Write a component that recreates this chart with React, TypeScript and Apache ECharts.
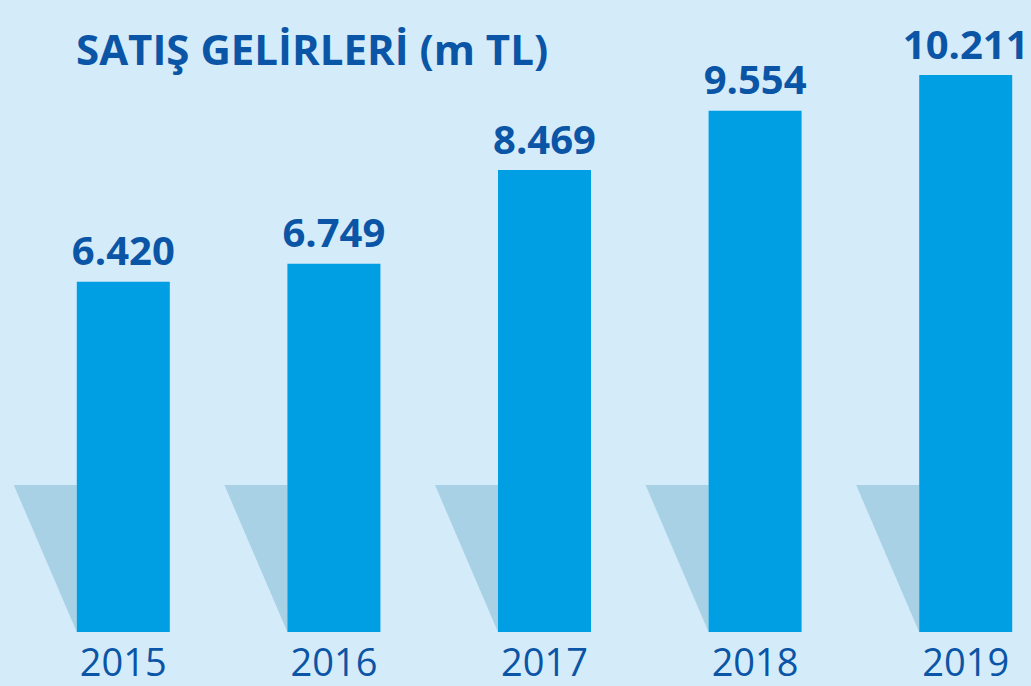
import React, { useEffect, useRef } from "react";
import * as echarts from "echarts";

const years = ["2015", "2016", "2017", "2018", "2019"];
const revenues = [6420, 6749, 8469, 9554, 10211];
const chartTitle = "SATIŞ GELİRLERİ (m TL)";

const BG = "#d4ebfa";
const BAR = "#009fe3";
const SHADOW = "#a8d1e5";
const TEXT = "#0b55a6";

function fmt(v: number): string {
  return String(v).replace(/\B(?=(\d{3})+(?!\d))/g, ".");
}

export default function App() {
  const ref = useRef<HTMLDivElement>(null);
  useEffect(() => {
    document.body.style.margin = "0";
    const chart = echarts.init(ref.current!, null, { renderer: "svg" });
    chart.setOption({
      animation: false,
      backgroundColor: BG,
      title: {
        text: chartTitle,
        left: 71,
        top: 22,
        textStyle: {
          fontFamily: "Open Sans",
          fontWeight: "bold",
          fontSize: 42,
          color: TEXT,
        },
      },
      grid: {
        left: 18,
        right: -40,
        top: 32,
        bottom: 54,
        containLabel: false,
        outerBoundsMode: "none",
      },
      xAxis: {
        type: "category",
        data: years,
        axisLine: { show: false },
        axisTick: { show: false },
        axisLabel: {
          fontFamily: "Open Sans",
          fontSize: 38,
          color: TEXT,
          margin: 10,
        },
      },
      yAxis: {
        type: "value",
        min: 0,
        max: 11000,
        show: false,
        splitLine: { show: false },
      },
      series: [
        {
          type: "custom",
          z: 1,
          silent: true,
          data: years.map((_, i) => i),
          renderItem: (params: any, api: any) => {
            const i = api.value(0);
            const base = api.coord([i, 0]);
            const left = base[0] - 46.5;
            return {
              type: "polygon",
              shape: {
                points: [
                  [left - 63, base[1] - 147],
                  [left, base[1] - 147],
                  [left, base[1]],
                ],
              },
              style: { fill: SHADOW },
            };
          },
        },
        {
          type: "bar",
          z: 2,
          data: revenues,
          barWidth: 93,
          itemStyle: { color: BAR },
          label: {
            show: true,
            position: "top",
            distance: 12,
            formatter: (p: any) => fmt(p.value),
            fontFamily: "Open Sans",
            fontWeight: "bold",
            fontSize: 40,
            color: TEXT,
          },
        },
      ],
    });
    return () => chart.dispose();
  }, []);
  return (
    <div
      ref={ref}
      style={{ position: "fixed", left: 0, top: 0, width: 1031, height: 686 }}
    />
  );
}
